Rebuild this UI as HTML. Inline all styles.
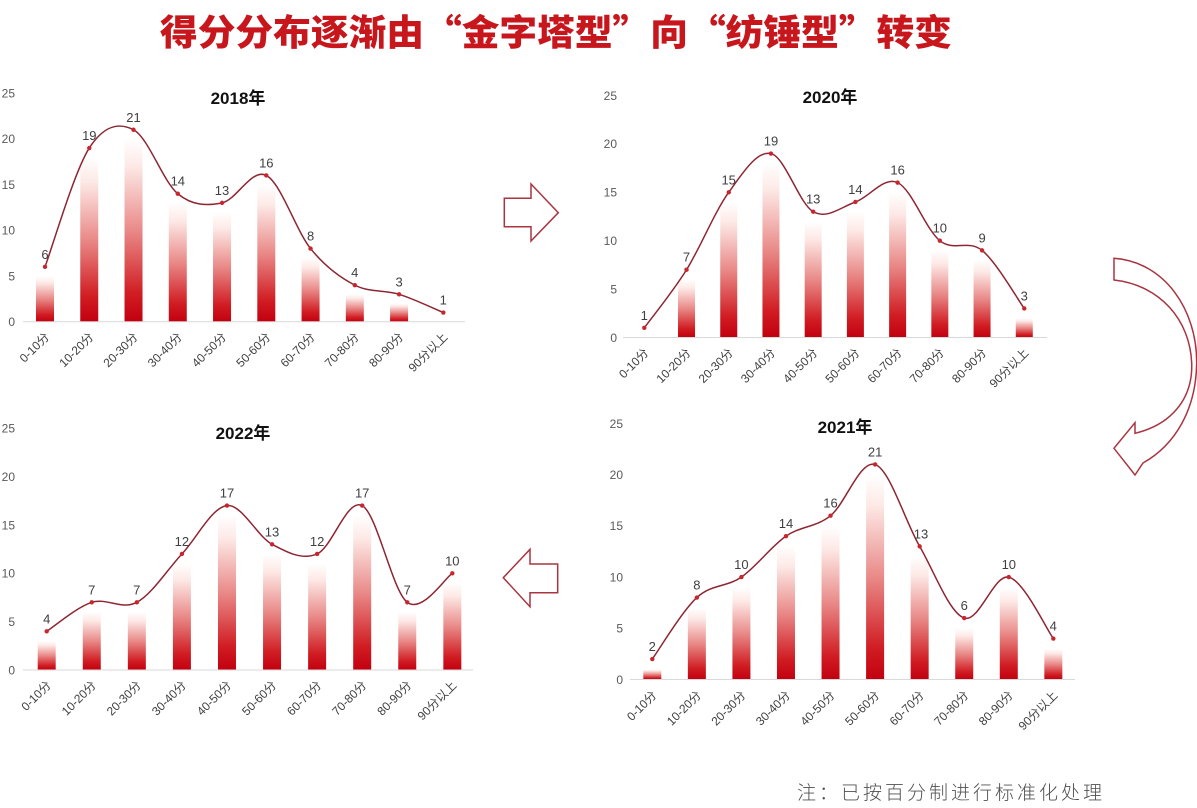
<!DOCTYPE html>
<html><head><meta charset="utf-8"><style>
html,body{margin:0;padding:0;background:#fff;}
svg{display:block;}
.t{font-family:"Liberation Sans","Noto Sans CJK SC",sans-serif;}
.tick{font-size:12px;fill:#595959;text-anchor:end;}
.dl{font-size:13px;fill:#404040;text-anchor:middle;}
.xl{font-size:12px;fill:#404040;text-anchor:end;}
.ct{font-size:17px;font-weight:bold;fill:#111;text-anchor:middle;}
</style></head><body>
<svg id="s" width="1197" height="808" viewBox="0 0 1197 808" xmlns="http://www.w3.org/2000/svg">
<defs>
<linearGradient id="bg" x1="0" y1="1" x2="0" y2="0">
<stop offset="0" stop-color="#c20010"/>
<stop offset="0.15" stop-color="#d01c22"/>
<stop offset="0.5" stop-color="#e98a88"/>
<stop offset="0.85" stop-color="#fde9e6"/>
<stop offset="1" stop-color="#ffffff"/>
</linearGradient>
</defs>
<rect width="1197" height="808" fill="#fff"/>
<g id="geom"></g>

<!-- title -->
<text x="556" y="45" text-anchor="middle" textLength="792" lengthAdjust="spacingAndGlyphs" style="font-family:'Noto Sans CJK SC','WenQuanYi Zen Hei',sans-serif;font-size:36px;font-weight:900;fill:#c8161d;">得分分布逐渐由“金字塔型”向“纺锤型”转变</text>

<!-- arrows -->
<polygon points="504.3,198.3 531,198.3 531,184 558.3,212.7 531,241 531,226.7 504.3,226.7" fill="#fff" stroke="#a83540" stroke-width="1.5"/>
<polygon points="503.3,577.7 530,549.3 530,564 557.7,564 557.7,592.7 530,592.7 530,606.7" fill="#fff" stroke="#a83540" stroke-width="1.5"/>
<path d="M1114,258.3 C1165,262 1197,310 1196.7,363 C1196,410 1175,445 1143,463 L1135,475 L1114,448.3 L1135,422.7 L1135,433.3 C1170,425 1193,400 1191.7,363 C1190,320 1160,285 1114,280 Z" fill="#fff" stroke="#a83540" stroke-width="1.5"/>

<!-- footnote -->
<text x="797" y="799" textLength="305" lengthAdjust="spacing" style="font-family:'Noto Sans CJK SC','WenQuanYi Zen Hei',sans-serif;font-size:19px;font-weight:300;fill:#505050;">注：已按百分制进行标准化处理</text>

<g class="t">
<!-- Chart A 2018 -->
<text class="ct" x="238" y="104">2018年</text>
<text class="tick" x="15" y="326">0</text>
<text class="tick" x="15" y="280.3">5</text>
<text class="tick" x="15" y="234.6">10</text>
<text class="tick" x="15" y="188.9">15</text>
<text class="tick" x="15" y="143.2">20</text>
<text class="tick" x="15" y="97.5">25</text>
<text class="dl" x="45" y="258.9">6</text>
<text class="dl" x="89.3" y="140">19</text>
<text class="dl" x="133.5" y="121.8">21</text>
<text class="dl" x="177.8" y="185.7">14</text>
<text class="dl" x="222" y="194.9">13</text>
<text class="dl" x="266.3" y="167.5">16</text>
<text class="dl" x="310.6" y="240.6">8</text>
<text class="dl" x="354.8" y="277.1">4</text>
<text class="dl" x="399.1" y="286.3">3</text>
<text class="dl" x="443.3" y="304.6">1</text>
<text class="xl" transform="translate(50,337.7) rotate(-45)">0-10分</text>
<text class="xl" transform="translate(94.3,337.7) rotate(-45)">10-20分</text>
<text class="xl" transform="translate(138.5,337.7) rotate(-45)">20-30分</text>
<text class="xl" transform="translate(182.8,337.7) rotate(-45)">30-40分</text>
<text class="xl" transform="translate(227,337.7) rotate(-45)">40-50分</text>
<text class="xl" transform="translate(271.3,337.7) rotate(-45)">50-60分</text>
<text class="xl" transform="translate(315.6,337.7) rotate(-45)">60-70分</text>
<text class="xl" transform="translate(359.8,337.7) rotate(-45)">70-80分</text>
<text class="xl" transform="translate(404.1,337.7) rotate(-45)">80-90分</text>
<text class="xl" transform="translate(448.3,337.7) rotate(-45)">90分以上</text>

<!-- Chart B 2020 -->
<text class="ct" x="830" y="103">2020年</text>
<text class="tick" x="617" y="341.8">0</text>
<text class="tick" x="617" y="293.4">5</text>
<text class="tick" x="617" y="245">10</text>
<text class="tick" x="617" y="196.6">15</text>
<text class="tick" x="617" y="148.2">20</text>
<text class="tick" x="617" y="99.8">25</text>
<text class="dl" x="644.3" y="319.8">1</text>
<text class="dl" x="686.5" y="261.7">7</text>
<text class="dl" x="728.7" y="184.3">15</text>
<text class="dl" x="771" y="145.6">19</text>
<text class="dl" x="813.2" y="203.7">13</text>
<text class="dl" x="855.4" y="194">14</text>
<text class="dl" x="897.6" y="174.6">16</text>
<text class="dl" x="939.8" y="232.7">10</text>
<text class="dl" x="982.1" y="242.4">9</text>
<text class="dl" x="1024.3" y="300.5">3</text>
<text class="xl" transform="translate(649.3,353.5) rotate(-45)">0-10分</text>
<text class="xl" transform="translate(691.5,353.5) rotate(-45)">10-20分</text>
<text class="xl" transform="translate(733.7,353.5) rotate(-45)">20-30分</text>
<text class="xl" transform="translate(776,353.5) rotate(-45)">30-40分</text>
<text class="xl" transform="translate(818.2,353.5) rotate(-45)">40-50分</text>
<text class="xl" transform="translate(860.4,353.5) rotate(-45)">50-60分</text>
<text class="xl" transform="translate(902.6,353.5) rotate(-45)">60-70分</text>
<text class="xl" transform="translate(944.8,353.5) rotate(-45)">70-80分</text>
<text class="xl" transform="translate(987.1,353.5) rotate(-45)">80-90分</text>
<text class="xl" transform="translate(1029.3,353.5) rotate(-45)">90分以上</text>

<!-- Chart C 2022 -->
<text class="ct" x="243" y="439">2022年</text>
<text class="tick" x="15" y="674.3">0</text>
<text class="tick" x="15" y="626">5</text>
<text class="tick" x="15" y="577.6">10</text>
<text class="tick" x="15" y="529.3">15</text>
<text class="tick" x="15" y="480.9">20</text>
<text class="tick" x="15" y="432.6">25</text>
<text class="dl" x="46.7" y="623.3">4</text>
<text class="dl" x="91.8" y="594.3">7</text>
<text class="dl" x="136.8" y="594.3">7</text>
<text class="dl" x="181.9" y="546">12</text>
<text class="dl" x="227" y="497.6">17</text>
<text class="dl" x="272" y="536.3">13</text>
<text class="dl" x="317.1" y="546">12</text>
<text class="dl" x="362.2" y="497.6">17</text>
<text class="dl" x="407.3" y="594.3">7</text>
<text class="dl" x="452.3" y="565.3">10</text>
<text class="xl" transform="translate(51.7,686) rotate(-45)">0-10分</text>
<text class="xl" transform="translate(96.8,686) rotate(-45)">10-20分</text>
<text class="xl" transform="translate(141.8,686) rotate(-45)">20-30分</text>
<text class="xl" transform="translate(186.9,686) rotate(-45)">30-40分</text>
<text class="xl" transform="translate(232,686) rotate(-45)">40-50分</text>
<text class="xl" transform="translate(277.1,686) rotate(-45)">50-60分</text>
<text class="xl" transform="translate(322.1,686) rotate(-45)">60-70分</text>
<text class="xl" transform="translate(367.2,686) rotate(-45)">70-80分</text>
<text class="xl" transform="translate(412.3,686) rotate(-45)">80-90分</text>
<text class="xl" transform="translate(457.3,686) rotate(-45)">90分以上</text>

<!-- Chart D 2021 -->
<text class="ct" x="845" y="433">2021年</text>
<text class="tick" x="623" y="683.8">0</text>
<text class="tick" x="623" y="632.6">5</text>
<text class="tick" x="623" y="581.4">10</text>
<text class="tick" x="623" y="530.2">15</text>
<text class="tick" x="623" y="479">20</text>
<text class="tick" x="623" y="427.8">25</text>
<text class="dl" x="652.3" y="651">2</text>
<text class="dl" x="696.9" y="589.6">8</text>
<text class="dl" x="741.4" y="569.1">10</text>
<text class="dl" x="786" y="528.1">14</text>
<text class="dl" x="830.5" y="507.7">16</text>
<text class="dl" x="875.1" y="456.5">21</text>
<text class="dl" x="921" y="538.4">13</text>
<text class="dl" x="964.2" y="610.1">6</text>
<text class="dl" x="1008.8" y="569.1">10</text>
<text class="dl" x="1053.3" y="630.5">4</text>
<text class="xl" transform="translate(657.3,696) rotate(-45)">0-10分</text>
<text class="xl" transform="translate(701.9,696) rotate(-45)">10-20分</text>
<text class="xl" transform="translate(746.4,696) rotate(-45)">20-30分</text>
<text class="xl" transform="translate(791,696) rotate(-45)">30-40分</text>
<text class="xl" transform="translate(835.5,696) rotate(-45)">40-50分</text>
<text class="xl" transform="translate(880.1,696) rotate(-45)">50-60分</text>
<text class="xl" transform="translate(924.7,696) rotate(-45)">60-70分</text>
<text class="xl" transform="translate(969.2,696) rotate(-45)">70-80分</text>
<text class="xl" transform="translate(1013.8,696) rotate(-45)">80-90分</text>
<text class="xl" transform="translate(1058.3,696) rotate(-45)">90分以上</text>
</g>
</svg>
<script>
(function(){
var NS="http://www.w3.org/2000/svg";
var g=document.getElementById("geom");
var charts=[
 {x0:45,dx:44.26,y0:321.7,k:9.14,w:18,ax0:23,ax1:465,vals:[6,19,21,14,13,16,8,4,3,1]},
 {x0:644.3,dx:42.22,y0:337.5,k:9.68,w:17,ax0:623,ax1:1047,vals:[1,7,15,19,13,14,16,10,9,3]},
 {x0:46.7,dx:45.07,y0:670,k:9.67,w:18,ax0:23,ax1:473,vals:[4,7,7,12,17,13,12,17,7,10]},
 {x0:652.3,dx:44.56,y0:679.5,k:10.24,w:18,ax0:630,ax1:1075,vals:[2,8,10,14,16,21,13,6,10,4]}
];
function el(n,a){var e=document.createElementNS(NS,n);for(var k in a)e.setAttribute(k,a[k]);g.appendChild(e);return e;}
charts.forEach(function(c){
  var pts=c.vals.map(function(v,i){return [c.x0+c.dx*i,c.y0-c.k*v];});
  c.vals.forEach(function(v,i){
    var bv=v-1; if(bv<=0) return;
    var h=bv*c.k;
    el("rect",{x:(pts[i][0]-c.w/2).toFixed(2),y:(c.y0-h).toFixed(2),width:c.w,height:h.toFixed(2),fill:"url(#bg)"});
  });
  el("line",{x1:c.ax0,y1:c.y0,x2:c.ax1,y2:c.y0,stroke:"#d9d9d9","stroke-width":1});
  var d="M"+pts[0][0].toFixed(2)+","+pts[0][1].toFixed(2);
  for(var i=0;i<pts.length-1;i++){
    var p0=pts[Math.max(i-1,0)],p1=pts[i],p2=pts[i+1],p3=pts[Math.min(i+2,pts.length-1)];
    var c1=[p1[0]+(p2[0]-p0[0])/6,p1[1]+(p2[1]-p0[1])/6];
    var c2=[p2[0]-(p3[0]-p1[0])/6,p2[1]-(p3[1]-p1[1])/6];
    d+=" C"+c1[0].toFixed(2)+","+c1[1].toFixed(2)+" "+c2[0].toFixed(2)+","+c2[1].toFixed(2)+" "+p2[0].toFixed(2)+","+p2[1].toFixed(2);
  }
  el("path",{d:d,fill:"none",stroke:"#8e2632","stroke-width":1.5});
  pts.forEach(function(p){el("circle",{cx:p[0],cy:p[1],r:2.2,fill:"#c8262c"});});
});
})();
</script>
</body></html>
